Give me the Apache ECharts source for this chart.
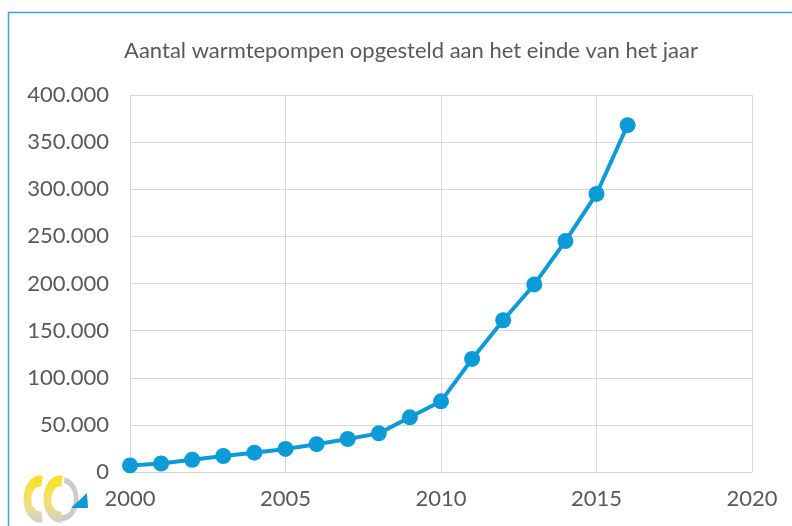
<!DOCTYPE html>
<html>
<head>
<meta charset="utf-8">
<script src="https://cdn.jsdelivr.net/npm/echarts@6/dist/echarts.min.js"></script>
<style>
  html, body { margin: 0; padding: 0; background: #fff; }
  #chart { width: 792px; height: 526px; }
</style>
</head>
<body>
<div id="chart"></div>
<script>
var years = [2000, 2001, 2002, 2003, 2004, 2005, 2006, 2007, 2008, 2009, 2010, 2011, 2012, 2013, 2014, 2015, 2016];
var pompen = [7000, 9000, 13000, 17000, 20500, 24500, 29500, 35000, 41000, 58000, 75000, 120000, 161000, 199000, 245000, 295000, 368000];

var seriesData = years.map(function (y, i) { return [y, pompen[i]]; });

function dots(v) {
    return String(v).replace(/\B(?=(\d{3})+(?!\d))/g, '.');
}

var myChart = echarts.init(document.getElementById('chart'));

// geel -> grijs verloop voor het logo
var geel = new echarts.graphic.LinearGradient(0, 0, 0, 1, [
    { offset: 0, color: '#f7e021' },
    { offset: 0.6, color: '#f0e27a' },
    { offset: 1, color: '#cfcfcf' }
]);

var option = {
    animation: false,
    textStyle: { fontFamily: 'Lato' },
    title: {
        text: 'Aantal warmtepompen opgesteld aan het einde van het jaar',
        left: 406,
        textAlign: 'center',
        top: 35,
        textStyle: { fontFamily: 'Lato', fontSize: 22, fontWeight: 'normal', color: '#595959' }
    },
    grid: { left: 130, right: 40, top: 95, bottom: 54 },
    xAxis: {
        type: 'value',
        min: 2000,
        max: 2020,
        interval: 5,
        axisLine: { show: true, lineStyle: { color: '#d0d0d0', width: 1 } },
        axisTick: { show: false },
        splitLine: { show: true, lineStyle: { color: '#d9d9d9' } },
        axisLabel: { color: '#595959', fontSize: 22, margin: 16, formatter: function (v) { return String(v); } }
    },
    yAxis: {
        type: 'value',
        min: 0,
        max: 400000,
        interval: 50000,
        axisLine: { show: false },
        axisTick: { show: false },
        splitLine: { show: true, lineStyle: { color: '#d9d9d9' } },
        axisLabel: { color: '#595959', fontSize: 22, margin: 21, formatter: dots }
    },
    graphic: [
        {
            type: 'polyline',
            shape: { points: [[8.5, 530], [8.5, 12.5], [800, 12.5]] },
            style: { stroke: '#3aa7db', lineWidth: 1.5, fill: null }
        },
        {
            type: 'arc',
            x: 40, y: 499, scaleX: 0.7,
            shape: { cx: 0, cy: 0, r: 18, startAngle: Math.PI * 0.45, endAngle: Math.PI * 1.55 },
            style: { stroke: geel, lineWidth: 11, fill: null }
        },
        {
            type: 'arc',
            x: 60, y: 499, scaleX: 0.7,
            shape: { cx: 0, cy: 0, r: 18, startAngle: Math.PI * 0.45, endAngle: Math.PI * 1.55 },
            style: { stroke: geel, lineWidth: 11, fill: null }
        },
        {
            type: 'arc',
            x: 62, y: 499, scaleX: 0.75,
            shape: { cx: 0, cy: 0, r: 19, startAngle: -Math.PI * 0.45, endAngle: Math.PI * 0.5 },
            style: { stroke: '#cbcbcb', lineWidth: 6, fill: null }
        },
        {
            type: 'polygon',
            shape: { points: [[71, 508], [88, 508], [87, 493]] },
            style: { fill: '#0a9bd6' }
        }
    ],
    series: [{
        type: 'line',
        data: seriesData,
        symbol: 'circle',
        symbolSize: 16,
        lineStyle: { color: '#0c9bd6', width: 4 },
        itemStyle: { color: '#0c9bd6' }
    }]
};

myChart.setOption(option);
</script>
</body>
</html>
